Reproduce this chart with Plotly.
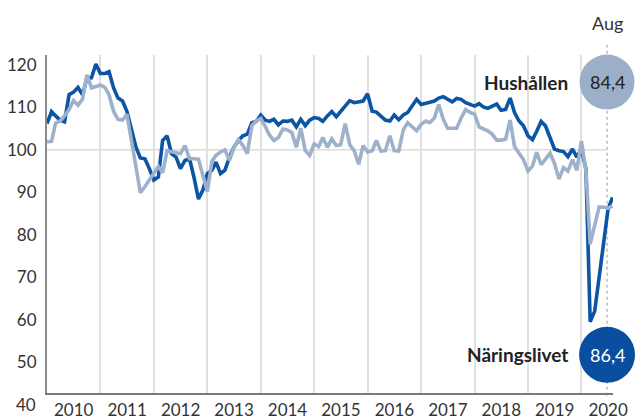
import plotly.graph_objects as go
import pandas as pd

months = pd.date_range("2010-01-01", "2020-08-01", freq="MS")

naringslivet = [
    106.2, 109.0, 108.0, 107.0, 106.6, 113.0, 113.6, 114.7, 113.0, 116.9, 117.0, 120.2,
    118.0, 118.0, 118.4, 114.6, 112.2, 111.5, 109.1, 104.9, 100.6, 98.1, 97.9, 95.6,
    92.9, 93.6, 102.2, 103.3, 99.1, 98.3, 95.6, 97.5, 97.9, 93.6, 88.4, 90.5,
    94.4, 95.2, 97.1, 94.4, 95.2, 98.3, 100.6, 102.2, 103.3, 103.7, 106.4, 106.7,
    108.2, 107.0, 106.7, 107.2, 105.9, 106.8, 106.7, 107.0, 105.4, 107.2, 105.7, 107.0,
    107.6, 107.4, 106.7, 108.0, 109.0, 107.8, 109.1, 110.5, 111.6, 111.1, 111.3, 111.5,
    113.2, 109.1, 108.9, 108.0, 107.0, 106.8, 108.2, 107.1, 108.2, 108.8, 110.5, 111.9,
    110.7, 110.9, 111.2, 111.5, 112.2, 112.5, 112.0, 111.3, 112.1, 111.9, 111.1, 110.6,
    110.3, 110.9, 110.1, 109.8, 110.3, 110.8, 109.3, 109.5, 112.2, 108.8, 106.8, 105.7,
    103.3, 102.4, 104.3, 106.7, 105.6, 102.6, 100.2, 99.8, 99.6, 98.4, 100.2, 98.3,
    100.2, 95.5, 59.5, 62.0, 69.5, 78.0, 86.0, 88.8,
]

hushallen = [
    101.9, 102.0, 106.3, 106.8, 108.0, 109.5, 111.6, 110.5, 112.0, 117.7, 114.6, 115.0,
    115.3, 114.7, 113.0, 109.1, 107.2, 107.0, 108.4, 102.2, 96.0, 89.9, 91.3, 93.0,
    94.5, 96.1, 94.6, 99.8, 99.6, 99.5, 99.1, 101.0, 97.9, 97.9, 97.8, 94.0,
    90.2, 97.3, 98.7, 99.5, 100.0, 97.5, 100.5, 102.4, 101.0, 99.1, 105.7, 106.8,
    107.4, 105.5, 103.5, 102.2, 102.9, 104.9, 104.7, 104.1, 100.6, 105.1, 99.8, 98.7,
    101.4, 100.8, 102.9, 100.6, 102.6, 101.0, 101.2, 106.2, 101.2, 99.8, 96.6, 101.0,
    99.5, 99.8, 102.2, 99.7, 99.8, 103.3, 99.8, 99.7, 104.7, 106.4, 105.5, 104.5,
    106.0, 106.8, 106.4, 107.5, 110.7, 107.2, 105.1, 105.1, 105.1, 107.5, 109.5, 108.8,
    108.4, 105.4, 105.0, 104.5, 103.7, 102.3, 102.3, 102.5, 107.0, 100.8, 99.2, 97.7,
    95.0, 96.2, 99.4, 96.5, 97.8, 99.2, 96.8, 93.1, 95.8, 95.0, 97.7, 95.2,
    102.1, 95.0, 77.8, 82.0, 86.5, 86.5, 86.2, 86.8,
]

y_ticks = [50, 60, 70, 80, 90, 100, 110, 120]
labels = ["Hushållen", "Näringslivet"]
latest = ["84,4", "86,4"]

BLUE = "#0b55a4"
GREY = "#9eb1ca"
FONT = "Lato"

# marker column / label positions in paper units
MX = 0.9895
Y_H = 0.920
Y_N = 0.113

fig = go.Figure()
fig.add_trace(go.Scatter(x=months, y=naringslivet, mode="lines",
                         line=dict(color=BLUE, width=3.6), name=labels[1]))
fig.add_trace(go.Scatter(x=months, y=hushallen, mode="lines",
                         line=dict(color=GREY, width=3.6), name=labels[0]))

shapes = [
    dict(type="line", xref="paper", yref="y", x0=0, x1=MX, y0=100, y1=100,
         line=dict(color="#dcdcdc", width=1.5), layer="below"),
    dict(type="line", xref="paper", yref="paper", x0=MX, x1=MX, y0=-0.008, y1=1.039,
         line=dict(color="#9a9a9a", width=1, dash="3px,3px"), layer="below"),
    dict(type="circle", xref="paper", yref="paper", xsizemode="pixel", ysizemode="pixel",
         xanchor=MX, yanchor=Y_H, x0=-27.5, x1=27.5, y0=-27.5, y1=27.5,
         fillcolor="#9cafc9", line=dict(width=0), layer="above"),
    dict(type="circle", xref="paper", yref="paper", xsizemode="pixel", ysizemode="pixel",
         xanchor=MX, yanchor=Y_N, x0=-28, x1=28, y0=-28, y1=28,
         fillcolor="#0a4f9f", line=dict(width=0), layer="above"),
]

annotations = [
    dict(x=MX, y=1.095, xref="paper", yref="paper", xanchor="center", yanchor="middle",
         text="Aug", showarrow=False, font=dict(family=FONT, size=18, color="#333333")),
    dict(x=MX, y=Y_H, xref="paper", yref="paper", xanchor="center", yanchor="middle",
         text=latest[0], showarrow=False, font=dict(family=FONT, size=18, color="#222222")),
    dict(x=MX, y=Y_N, xref="paper", yref="paper", xanchor="center", yanchor="middle",
         text=latest[1], showarrow=False, font=dict(family=FONT, size=18, color="#ffffff")),
    dict(x=0.924, y=Y_H, xref="paper", yref="paper", xanchor="right", yanchor="middle",
         text=labels[0], showarrow=False,
         font=dict(family=FONT, size=19, color="#222222", weight=700)),
    dict(x=0.924, y=Y_N, xref="paper", yref="paper", xanchor="right", yanchor="middle",
         text=labels[1], showarrow=False,
         font=dict(family=FONT, size=19, color="#222222", weight=700)),
    dict(x=-0.016, y=-0.033, xref="paper", yref="paper", xanchor="right", yanchor="middle",
         text="40", showarrow=False, font=dict(family=FONT, size=17, color="#333333")),
]

fig.update_layout(
    width=637, height=419,
    margin=dict(l=47, r=24, t=55, b=26, autoexpand=False),
    paper_bgcolor="white", plot_bgcolor="white",
    showlegend=False,
    shapes=shapes, annotations=annotations,
    font=dict(family=FONT, size=17, color="#333333"),
    xaxis=dict(
        type="date", range=["2010-01-01", "2020-08-04"],
        tick0="2010-01-01", dtick="M12", tickformat="%Y", ticklabelmode="period",
        showgrid=True, gridcolor="#e0e0e0", gridwidth=1.5,
        showline=True, linecolor="#7a7a7a", linewidth=2,
        ticks="", ticklabelstandoff=1, zeroline=False, automargin=False,
        tickfont=dict(family=FONT, size=17, color="#333333"),
    ),
    yaxis=dict(
        range=[42.7, 122.35], tickvals=y_ticks, showgrid=False,
        showline=True, linecolor="#8a8a8a", linewidth=2,
        ticks="", ticklabelstandoff=5, zeroline=False, automargin=False,
        tickfont=dict(family=FONT, size=17, color="#333333"),
    ),
)

fig.write_html("out.html", config={"displayModeBar": False},
               post_script="document.body.style.margin='0';")
